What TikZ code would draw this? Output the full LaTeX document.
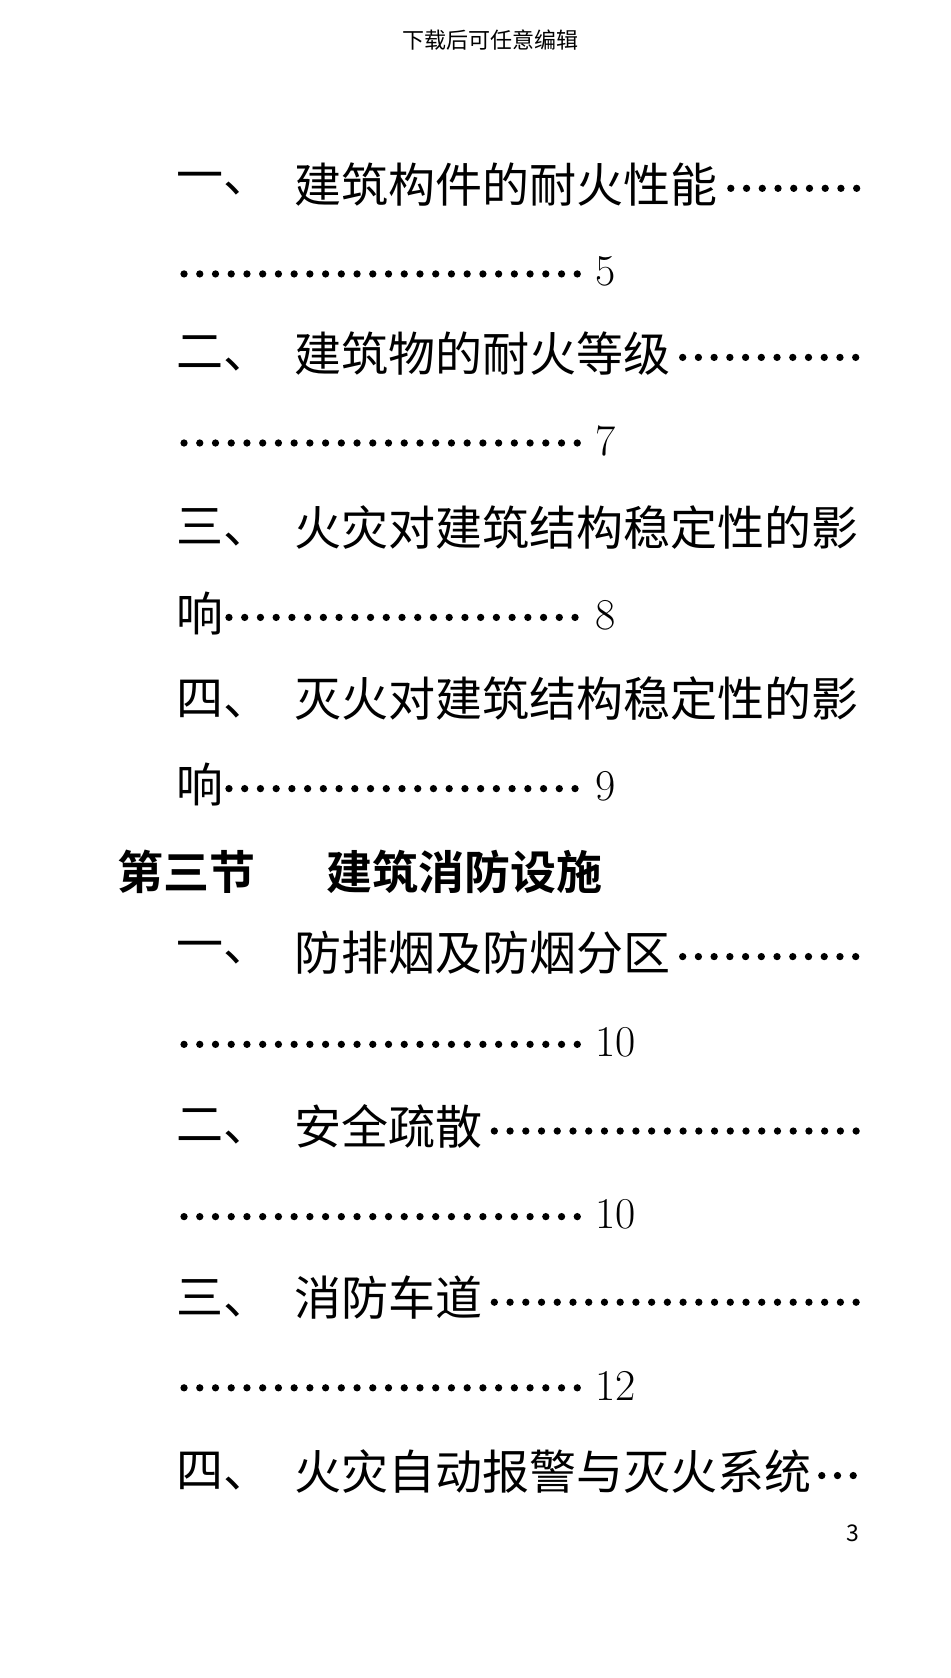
\documentclass[tikz,border=0pt]{standalone}
\usepackage{fontspec}
\setmainfont{Latin Modern Roman}
\newfontfamily\cjk{Noto Sans CJK SC}
\newfontfamily\cjkb{Noto Sans CJK SC Bold}
\begin{document}
\begin{tikzpicture}[x=1.07pt,y=-1.07pt,
  tx/.style={anchor=west,inner sep=0pt,font=\cjk\fontsize{47}{47}\selectfont},
  hd/.style={anchor=west,inner sep=0pt,font=\cjkb\fontsize{46}{46}\selectfont},
  num/.style={anchor=west,inner sep=0pt,font=\fontsize{44}{44}\selectfont}]
\useasboundingbox (0,0) rectangle (887.9,1568.2);
\newcommand\dotrow[3]{\foreach \i in {0,...,200}{\pgfmathsetmacro\xx{#1+14.7*\i}\pgfmathparse{\xx<=#2?1:0}\ifnum\pgfmathresult=1 \fill (\xx,#3+4) circle (3.4);\fi}}
\node[inner sep=0pt,font=\cjk\fontsize{22}{22}\selectfont] (hdr) at (458,37) {下载后可任意编辑};
\node[tx] (a1) at (165,172) {一、};\node[tx] (b1) at (275,172) {建筑构件的耐火性能};
\dotrow{683}{802}{172}
\dotrow{172}{552}{252}\node[num] (n1) at (556,254) {5};
\node[tx] (a2) at (165,330) {二、};\node[tx] (b2) at (275,330) {建筑物的耐火等级};
\dotrow{638}{802}{330}
\dotrow{172}{552}{410}\node[num] (n2) at (556,412) {7};
\node[tx] (a3) at (165,493) {三、};\node[tx] (b3) at (275,493) {火灾对建筑结构稳定性的影};
\node[tx] (c3) at (165,573) {响};\dotrow{214}{552}{573}\node[num] (n3) at (556,575) {8};
\node[tx] (a4) at (165,653) {四、};\node[tx] (b4) at (275,653) {灭火对建筑结构稳定性的影};
\node[tx] (c4) at (165,733) {响};\dotrow{214}{552}{733}\node[num] (n4) at (556,735) {9};
\node[hd] (h1) at (110,815) {第三节};\node[hd] (h2) at (305,815) {建筑消防设施};
\node[tx] (a5) at (165,890) {一、};\node[tx] (b5) at (275,890) {防排烟及防烟分区};
\dotrow{638}{802}{890}
\dotrow{172}{552}{972}\node[num] (n5) at (556,974) {10};
\node[tx] (a6) at (165,1053) {二、};\node[tx] (b6) at (275,1053) {安全疏散};
\dotrow{462}{802}{1053}
\dotrow{172}{552}{1133}\node[num] (n6) at (556,1135) {10};
\node[tx] (a7) at (165,1213) {三、};\node[tx] (b7) at (275,1213) {消防车道};
\dotrow{462}{802}{1213}
\dotrow{172}{552}{1293}\node[num] (n7) at (556,1295) {12};
\node[tx] (a8) at (165,1375) {四、};\node[tx] (b8) at (275,1375) {火灾自动报警与灭火系统};
\dotrow{768}{802}{1375}
\node[inner sep=0pt,font=\cjk\fontsize{23}{23}\selectfont] (pg) at (797,1433) {3};
\end{tikzpicture}
\end{document}
